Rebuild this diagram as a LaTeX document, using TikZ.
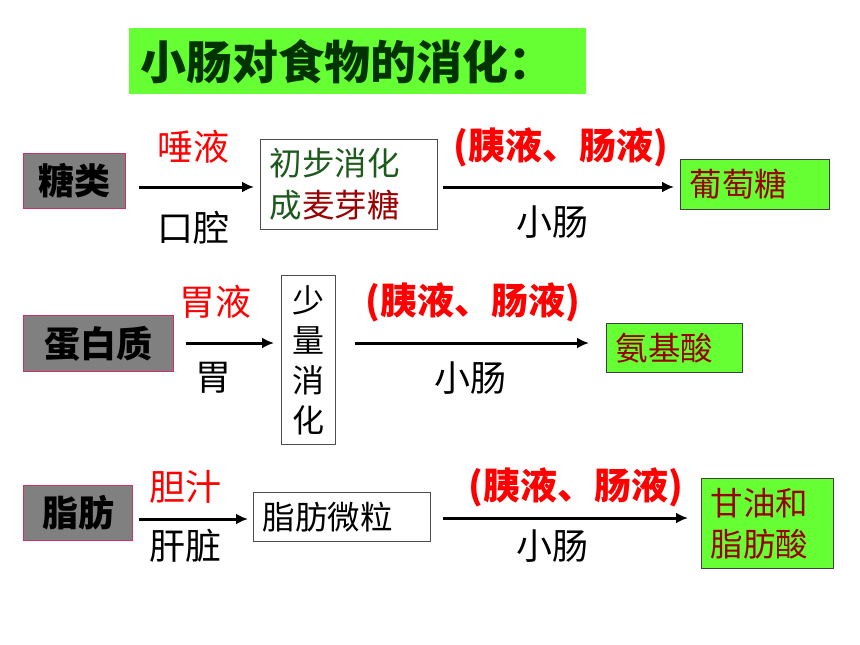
\documentclass[tikz,border=0pt]{standalone}
\usepackage{fontspec}
\setmainfont{Noto Sans CJK SC}
\usepackage{xcolor}
\usetikzlibrary{arrows, arrows.meta, positioning}
\definecolor{brightgreen}{HTML}{66FF33}
\definecolor{titletext}{HTML}{003300}
\definecolor{sortgray}{HTML}{808080}
\definecolor{sortborder}{HTML}{D0306A}
\definecolor{stepgreen}{HTML}{1E5A1E}
\definecolor{darkred}{HTML}{990000}
\tikzset{
    titlenode/.style = {fill=brightgreen, rectangle, anchor=north west, inner xsep=11pt, 
      text width=435pt, minimum height=66pt, align=left, text=titletext, 
      font=\fontsize{46}{52}\selectfont\bfseries},
    sortnode/.style = {draw=sortborder, fill=sortgray, rectangle, anchor=north west, line width=1pt, 
      inner xsep=0pt, font=\fontsize{36}{42}\selectfont\bfseries},
    stepnode/.style = {draw=black!70, fill=white, rectangle, anchor=north west, line width=1pt, 
      inner xsep=9pt, align=left, font=\fontsize{32.5}{42}\selectfont},
    endnode/.style = {draw=black!75, fill=brightgreen, rectangle, anchor=north west, line width=1pt, 
      inner xsep=9pt, align=left, text=darkred, font=\fontsize{32.5}{41}\selectfont},
    juicenode/.style = {text=red, inner sep=0pt, font=\fontsize{36}{40}\selectfont},
    placenode/.style = {text=black, inner sep=0pt, font=\fontsize{36}{40}\selectfont},
    boldjuice/.style = {juicenode, font=\fontsize{37}{40}\selectfont\bfseries},
    connect/.style = {black, line width=3pt, -{Latex[length=12pt, width=11pt]}}
}
\begin{document}
\begin{tikzpicture}[x=1pt, y=-1pt]
    \useasboundingbox [fill=white] (0,0) rectangle (860,645);

    \node [name=title, titlenode] at (129,28) {小肠对食物的消化：};

    % sugar
    \node [name=tang, sortnode, minimum width=102pt, minimum height=55pt] at (23,153) {糖类};
    \node [name=chubu, stepnode, text width=159pt, minimum height=90pt] at (260,139) 
        {\textcolor{stepgreen}{初步消化}\\\textcolor{stepgreen}{成}\textcolor{darkred}{麦芽糖}};
    \node [name=putao, endnode, text width=131pt, minimum height=50pt] at (680,159) {葡萄糖};
    \coordinate (t1s) at (139,187); \coordinate (t1e) at (254,187);
    \coordinate (t2s) at (443,187); \coordinate (t2e) at (674,187);
    \draw [connect] (t1s) -- (t1e);
    \draw [connect] (t2s) -- (t2e);
    \node [name=tuoye, juicenode] at (193,147) {唾液};
    \node [name=kouqiang, placenode] at (193,228) {口腔};
    \node [name=yiye1, boldjuice] at (561,147) {(胰液、肠液)};
    \node [name=xiaochang1, placenode] at (552,222) {小肠};

    % protein
    \node [name=danbai, sortnode, minimum width=150pt, minimum height=56pt] at (23,315) {蛋白质};
    \node [name=shaoliang, stepnode, inner xsep=0pt, text width=54pt, align=center, 
        minimum height=169pt, font=\fontsize{32}{40}\selectfont] at (281,275) {少\\量\\消\\化};
    \node [name=anji, endnode, text width=118pt, minimum height=49pt] at (606,323) {氨基酸};
    \coordinate (d1s) at (186,343); \coordinate (d1e) at (274,343);
    \coordinate (d2s) at (355,343); \coordinate (d2e) at (589,343);
    \draw [connect] (d1s) -- (d1e);
    \draw [connect] (d2s) -- (d2e);
    \node [name=weiye, juicenode] at (215,302) {胃液};
    \node [name=wei, placenode] at (213,378) {胃};
    \node [name=yiye2, boldjuice] at (473,302) {(胰液、肠液)};
    \node [name=xiaochang2, placenode] at (470,378) {小肠};

    % fat
    \node [name=zhifang, sortnode, minimum width=109pt, minimum height=55pt] at (23,485) {脂肪};
    \node [name=weili, stepnode, text width=159pt, minimum height=49pt] at (253,492) {脂肪微粒};
    \node [name=ganyou, endnode, text width=114pt, minimum height=90pt] at (701,478) {甘油和\\脂肪酸};
    \coordinate (z1s) at (139,519); \coordinate (z1e) at (248,519);
    \coordinate (z2s) at (443,518); \coordinate (z2e) at (688,518);
    \draw [connect] (z1s) -- (z1e);
    \draw [connect] (z2s) -- (z2e);
    \node [name=danzhi, juicenode] at (185,487) {胆汁};
    \node [name=ganzang, placenode] at (185,546) {肝脏};
    \node [name=yiye3, boldjuice] at (576,487) {(胰液、肠液)};
    \node [name=xiaochang3, placenode] at (552,546) {小肠};
\end{tikzpicture}
\end{document}
